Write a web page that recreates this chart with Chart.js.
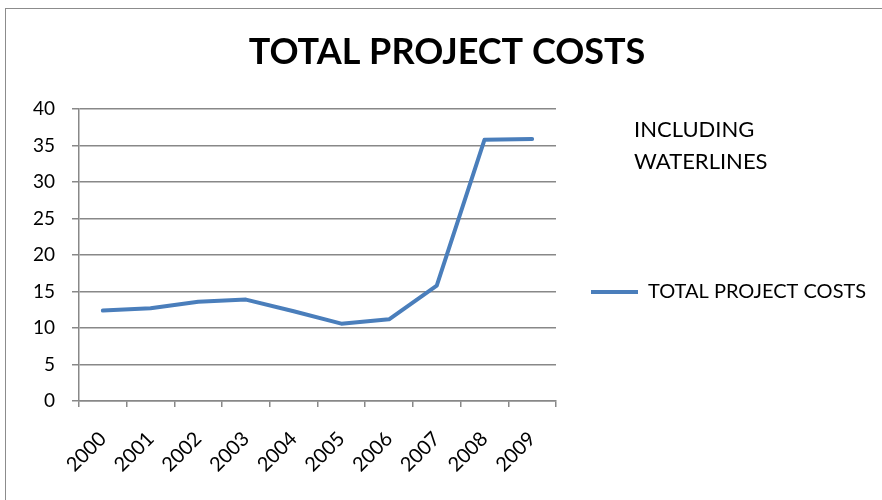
<!DOCTYPE html>
<html>
<head>
<meta charset="utf-8">
<script src="https://cdn.jsdelivr.net/npm/chart.js@4/dist/chart.umd.min.js"></script>
<style>
  html, body { margin: 0; padding: 0; background: #fff; }
  #wrap { width: 882px; height: 500px; position: relative; }
</style>
</head>
<body>
<div id="wrap"><canvas id="c" width="882" height="500"></canvas></div>
<script>
const categories = ['2000', '2001', '2002', '2003', '2004', '2005', '2006', '2007', '2008', '2009'];
const totalProjectCosts = [12.4, 12.7, 13.6, 13.9, 12.3, 10.6, 11.2, 15.8, 35.8, 35.9];
const seriesName = 'TOTAL PROJECT COSTS';
const chartTitle = 'TOTAL PROJECT COSTS';
const noteLines = ['INCLUDING', 'WATERLINES'];
const yTickStep = 5;
const yMin = 0;
const yMax = 40;

const FONT = 'Lato';
const GRID = '#888888';

const framePlugin = {
  id: 'frame',
  beforeDraw(chart) {
    const ctx = chart.ctx;
    ctx.save();
    ctx.strokeStyle = '#8c8c8c';
    ctx.lineWidth = 1;
    ctx.strokeRect(5.5, 8.5, 1200, 1200);
    ctx.restore();
  }
};

const legendPlacePlugin = {
  id: 'legendPlace',
  beforeLayout(chart) {
    const lg = chart.legend;
    if (lg && !lg._fixedWidth) {
      const orig = lg.fit.bind(lg);
      lg.fit = function () { orig(); this.width = 326; };
      lg._fixedWidth = true;
    }
  },
  afterLayout(chart) {
    const lg = chart.legend;
    if (lg) { lg.top = 2 * 292 - lg.bottom; }
  }
};

const notePlugin = {
  id: 'note',
  afterDraw(chart) {
    const ctx = chart.ctx;
    const a = chart.chartArea;
    ctx.save();
    ctx.font = '22px ' + FONT;
    ctx.fillStyle = '#000';
    ctx.textAlign = 'left';
    ctx.textBaseline = 'alphabetic';
    noteLines.forEach((t, i) => ctx.fillText(t, a.right + 78, a.top + 28 + i * 32));
    ctx.restore();
  }
};

new Chart(document.getElementById('c'), {
  type: 'line',
  data: {
    labels: categories,
    datasets: [{
      label: seriesName,
      data: totalProjectCosts,
      borderColor: '#4A7EBB',
      backgroundColor: '#4A7EBB',
      borderWidth: 4,
      pointRadius: 0,
      pointHoverRadius: 0,
      tension: 0,
      borderJoinStyle: 'round',
      borderCapStyle: 'round',
      fill: false
    }]
  },
  options: {
    responsive: false,
    animation: false,
    events: [],
    layout: { padding: { left: 12, right: 0, top: 0, bottom: 0 } },
    plugins: {
      title: {
        display: true,
        text: chartTitle,
        color: '#000',
        font: { family: FONT, size: 36, weight: 'bold', lineHeight: 1.2 },
        padding: { top: 31, bottom: 35 }
      },
      legend: {
        display: true,
        position: 'right',
        align: 'center',
        labels: {
          usePointStyle: true,
          pointStyle: 'line',
          pointStyleWidth: 47,
          boxHeight: 20,
          padding: 35,
          color: '#000',
          font: { family: FONT, size: 20 }
        }
      },
      tooltip: { enabled: false }
    },
    scales: {
      x: {
        type: 'category',
        offset: true,
        afterFit(scale) { scale.height = 99; },
        grid: {
          offset: true,
          drawOnChartArea: false,
          drawTicks: true,
          tickLength: 6,
          color: GRID,
          lineWidth: 1.5
        },
        border: { display: true, color: GRID, width: 1.5 },
        ticks: {
          autoSkip: false,
          minRotation: 45,
          maxRotation: 45,
          padding: 20,
          color: '#000',
          font: { family: FONT, size: 20 }
        }
      },
      y: {
        min: yMin,
        max: yMax,
        afterFit(scale) { scale.width = 67; },
        grid: {
          drawTicks: true,
          tickLength: 7,
          color: GRID,
          lineWidth: 1.5
        },
        border: { display: true, color: GRID, width: 1.5 },
        ticks: {
          stepSize: yTickStep,
          padding: 17,
          color: '#000',
          font: { family: FONT, size: 19 }
        }
      }
    }
  },
  plugins: [framePlugin, legendPlacePlugin, notePlugin]
});
</script>
</body>
</html>
